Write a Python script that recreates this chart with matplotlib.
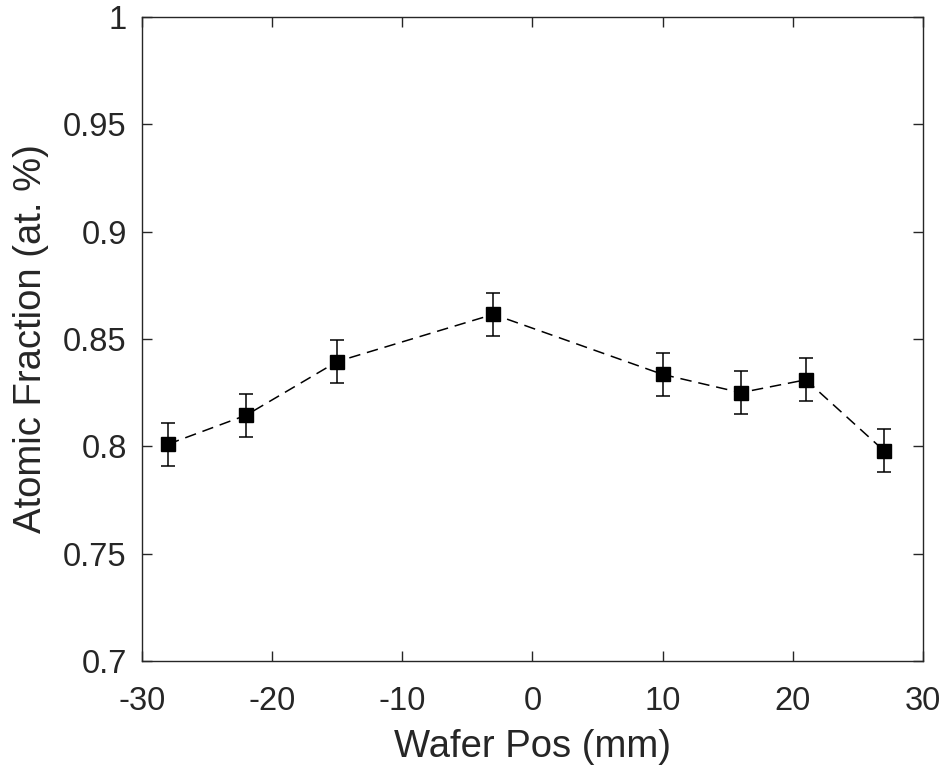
import matplotlib
matplotlib.use("Agg")
import matplotlib.pyplot as plt

# wafer position (mm) and measured atomic fraction
wafer_pos = [-28, -22, -15, -3, 10, 16, 21, 27]
atomic_frac = [0.801, 0.8145, 0.8395, 0.8615, 0.8335, 0.825, 0.831, 0.798]
frac_err = [0.01, 0.01, 0.01, 0.01, 0.01, 0.01, 0.01, 0.01]

x_ticks = [-30, -20, -10, 0, 10, 20, 30]
y_ticks = [0.7, 0.75, 0.8, 0.85, 0.9, 0.95, 1.0]
y_ticklabels = ['0.7', '0.75', '0.8', '0.85', '0.9', '0.95', '1']

plt.rcParams['font.family'] = ['Liberation Sans', 'DejaVu Sans']
dark = '#262626'

fig = plt.figure(figsize=(9.5, 7.73), dpi=100)
ax = fig.add_axes([0.1495, 0.1449, 0.822, 0.8331])

ax.errorbar(wafer_pos, atomic_frac, yerr=frac_err, color='black',
            linestyle=(0, (7.5, 4.5)), linewidth=1.1, marker='s', markersize=9.5,
            markerfacecolor='black', markeredgecolor='black',
            ecolor='black', elinewidth=1.1, capsize=5, capthick=1.1)

ax.set_xlim(-30, 30)
ax.set_ylim(0.7, 1.0)
ax.set_xticks(x_ticks)
ax.set_xticklabels([str(t) for t in x_ticks])
ax.set_yticks(y_ticks)
ax.set_yticklabels(y_ticklabels)

ax.tick_params(direction='in', top=True, right=True, length=7, width=1,
               colors=dark, labelsize=23.5)
ax.tick_params(axis='x', pad=18)
ax.tick_params(axis='y', pad=11)
for s in ax.spines.values():
    s.set_color(dark)
    s.set_linewidth(1)

ax.set_xlabel('Wafer Pos (mm)', fontsize=27.5, color=dark, labelpad=9)
ax.set_ylabel('Atomic Fraction (at. %)', fontsize=27.5, color=dark, labelpad=10)

fig.savefig('out.png', dpi=100)
